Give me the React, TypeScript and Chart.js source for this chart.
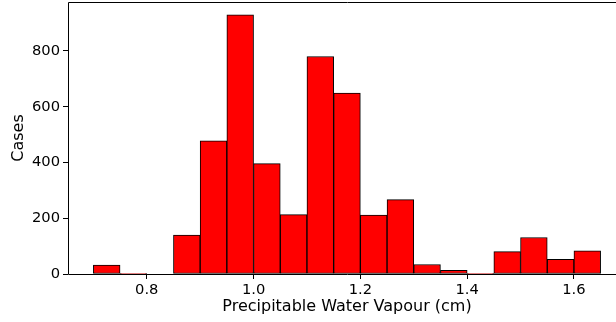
import React, { useEffect, useRef } from 'react';
import { Chart, registerables } from 'chart.js';

Chart.register(...registerables);

// Histogram bins (left edges, cm) and counts
const binStarts = [0.70, 0.75, 0.80, 0.85, 0.90, 0.95, 1.00, 1.05, 1.10, 1.15, 1.20, 1.25, 1.30, 1.35, 1.40, 1.45, 1.50, 1.55, 1.60];
const binWidth = 0.05;
const cases = [32, 2, 0, 140, 478, 929, 396, 213, 780, 649, 211, 267, 34, 13, 2, 80, 131, 53, 83];
const xTicks = [0.8, 1.0, 1.2, 1.4, 1.6];
const yTicks = [0, 200, 400, 600, 800];
const xLabel = 'Precipitable Water Vapour (cm)';
const yLabel = 'Cases';

const FONT = 'DejaVu Sans';

export default function App() {
  const ref = useRef<HTMLCanvasElement | null>(null);

  useEffect(() => {
    document.body.style.margin = '0';
    const canvas = ref.current;
    if (!canvas) return;

    const lo = binStarts[0];
    const hi = binStarts[binStarts.length - 1] + binWidth;
    const xm = (hi - lo) * 0.05;
    const ymax = Math.max(...cases) * 1.05;

    const spines = {
      id: 'spines',
      afterDatasetsDraw(chart: any) {
        const { ctx, chartArea: a } = chart;
        ctx.save();
        ctx.strokeStyle = '#000';
        ctx.lineWidth = 1;
        ctx.beginPath();
        ctx.rect(Math.round(a.left) + 0.5, Math.round(a.top) + 0.5, Math.round(a.right - a.left), Math.round(a.bottom - a.top));
        ctx.stroke();
        ctx.restore();
      },
    };

    const chart = new Chart(canvas, {
      type: 'bar',
      data: {
        datasets: [
          {
            data: binStarts.map((s, i) => ({ x: s + binWidth / 2, y: cases[i] })),
            backgroundColor: '#ff0000',
            borderColor: '#000000',
            borderWidth: 1,
            borderSkipped: false,
            barPercentage: 1,
            categoryPercentage: 1,
          },
        ],
      },
      options: {
        responsive: false,
        animation: false,
        devicePixelRatio: 1,
        layout: { padding: { top: 2, right: 10, left: 0, bottom: 0 } },
        plugins: {
          legend: { display: false },
          tooltip: { enabled: false },
        },
        scales: {
          x: {
            type: 'linear',
            min: lo - xm,
            max: hi + xm,
            offset: false,
            grid: { display: true, offset: false, drawOnChartArea: false, drawTicks: true, tickLength: 5, color: '#000' },
            border: { display: false },
            afterBuildTicks: (s: any) => {
              s.ticks = xTicks.map((v) => ({ value: v }));
            },
            afterFit: (s: any) => {
              s.height = 48;
              s.paddingLeft = 0;
              s.paddingRight = 0;
            },
            ticks: {
              padding: 2.5,
              color: '#000',
              font: { family: FONT, size: 14.7 },
              callback: (v: any) => Number(v).toFixed(1),
              maxRotation: 0,
            },
            title: {
              display: true,
              text: xLabel,
              color: '#000',
              font: { family: FONT, size: 16 },
              padding: { top: 0, bottom: 5.4 },
            },
          },
          y: {
            type: 'linear',
            min: 0,
            max: ymax,
            grid: { display: true, offset: false, drawOnChartArea: false, drawTicks: true, tickLength: 5, color: '#000' },
            border: { display: false },
            afterBuildTicks: (s: any) => {
              s.ticks = yTicks.map((v) => ({ value: v }));
            },
            afterFit: (s: any) => {
              s.width = 68;
              s.paddingTop = 0;
              s.paddingBottom = 0;
            },
            ticks: {
              padding: 3,
              color: '#000',
              font: { family: FONT, size: 14.7 },
              callback: (v: any) => String(v),
            },
            title: {
              display: true,
              text: yLabel,
              color: '#000',
              font: { family: FONT, size: 16 },
              padding: { top: 9, bottom: 0 },
            },
          },
        },
      },
      plugins: [spines],
    });

    return () => chart.destroy();
  }, []);

  return (
    <div style={{ position: 'absolute', left: 0, top: 0, width: 616, height: 322, overflow: 'hidden', background: '#fff' }}>
      <canvas ref={ref} width={636} height={322} style={{ display: 'block', width: 636, height: 322 }} />
    </div>
  );
}
